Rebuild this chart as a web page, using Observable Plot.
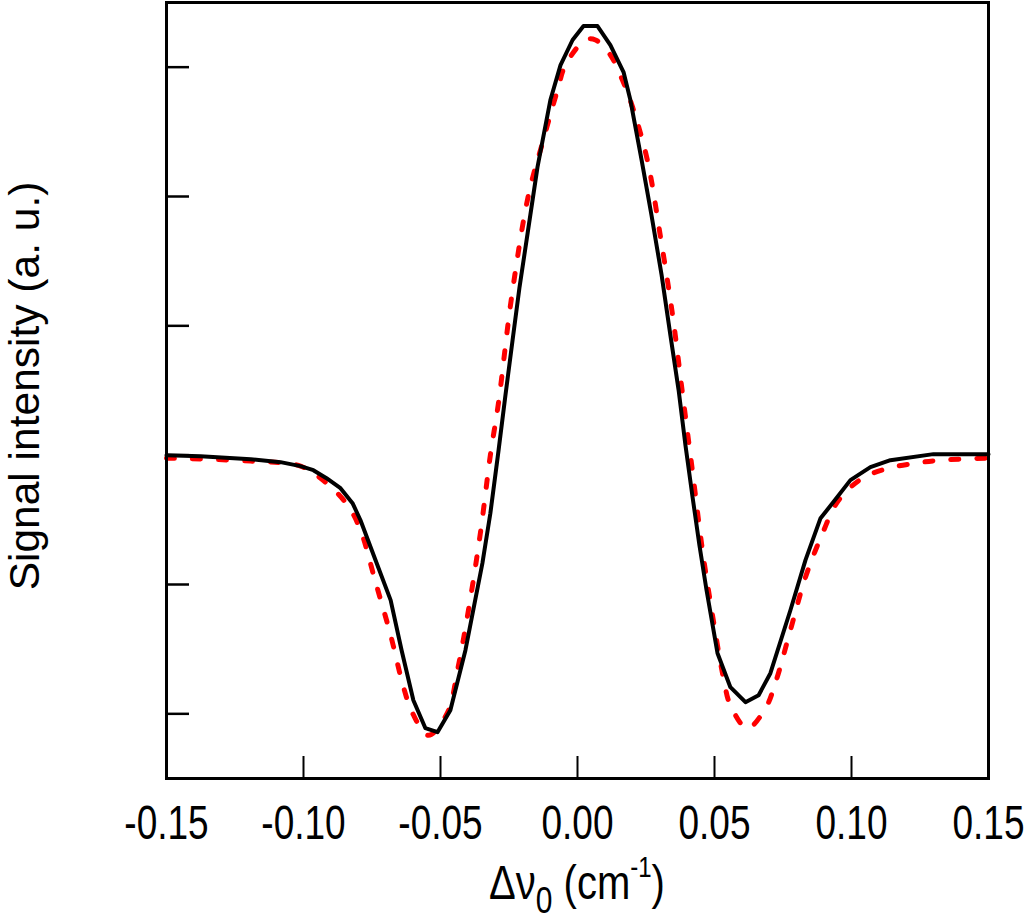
<!DOCTYPE html>
<html><head><meta charset="utf-8">
<script src="https://cdn.jsdelivr.net/npm/d3@7"></script>
<script src="https://cdn.jsdelivr.net/npm/@observablehq/plot@0.6"></script>
<style>
body{margin:0;background:#fff;}
#chart svg{display:block;font-family:"Liberation Sans",Arial,sans-serif;}
</style>
</head><body><div id="chart"></div>
<script>
// x tick values (cm^-1) and y tick positions (arbitrary units, unlabeled)
const xTicks = [-0.15, -0.10, -0.05, 0.00, 0.05, 0.10, 0.15];
const yTicks = [-2, -1, 0, 1, 2, 3];

// measured signal (black solid)
const measX = [-0.1500,-0.1376,-0.1193,-0.1084,-0.1011,-0.0964,-0.0916,-0.0865,-0.0821,-0.0792,-0.0737,-0.0682,-0.0642,-0.0599,-0.0555,-0.0511,-0.0464,-0.0409,-0.0347,-0.0318,-0.0288,-0.0263,-0.0237,-0.0212,-0.0182,-0.0146,-0.0099,-0.0062,-0.0018,0.0022,0.0073,0.0120,0.0168,0.0193,0.0234,0.0270,0.0307,0.0339,0.0369,0.0394,0.0420,0.0445,0.0471,0.0511,0.0558,0.0613,0.0661,0.0704,0.0777,0.0832,0.0887,0.0934,0.0996,0.1069,0.1142,0.1299,0.1500];
const measY = [0.000,-0.008,-0.031,-0.054,-0.085,-0.116,-0.178,-0.255,-0.371,-0.503,-0.812,-1.121,-1.508,-1.895,-2.111,-2.142,-1.972,-1.508,-0.835,-0.449,0.039,0.464,0.889,1.292,1.717,2.227,2.746,3.016,3.210,3.318,3.318,3.171,2.962,2.746,2.281,1.856,1.392,0.928,0.503,0.077,-0.325,-0.696,-1.044,-1.531,-1.794,-1.910,-1.856,-1.686,-1.199,-0.812,-0.487,-0.363,-0.193,-0.093,-0.039,0.008,0.008];

// simulated signal (red dashed)
const simX = [-0.1500,-0.1193,-0.1011,-0.0920,-0.0839,-0.0792,-0.0737,-0.0682,-0.0635,-0.0602,-0.0544,-0.0474,-0.0438,-0.0398,-0.0354,-0.0318,-0.0288,-0.0241,-0.0179,-0.0128,-0.0073,-0.0044,0.0029,0.0066,0.0120,0.0164,0.0201,0.0255,0.0303,0.0347,0.0383,0.0420,0.0456,0.0485,0.0533,0.0558,0.0620,0.0686,0.0723,0.0777,0.0832,0.0887,0.0953,0.1040,0.1135,0.1234,0.1325,0.1500];
const simY = [-0.023,-0.046,-0.085,-0.209,-0.387,-0.580,-0.982,-1.392,-1.794,-1.995,-2.166,-1.988,-1.663,-1.199,-0.596,0.000,0.410,1.214,2.011,2.413,2.823,3.016,3.210,3.210,3.094,2.900,2.691,2.281,1.686,1.083,0.480,-0.131,-0.735,-1.137,-1.725,-1.933,-2.111,-1.957,-1.756,-1.353,-0.944,-0.642,-0.348,-0.178,-0.101,-0.062,-0.039,-0.023];

const meas = measX.map((x, i) => ({x, y: measY[i]}));
const sim = simX.map((x, i) => ({x, y: simY[i]}));

const W = 1024, H = 920;
const mL = 166, mR = 36, mT = 2, mB = 142;
const innerW = W - mL - mR, innerH = H - mT - mB;

const plot = Plot.plot({
  width: W, height: H,
  marginLeft: mL, marginRight: mR, marginTop: mT, marginBottom: mB,
  style: {fontFamily: '"Liberation Sans", Arial, sans-serif', background: "#fff", color: "#000"},
  x: {domain: [-0.15, 0.15]},
  y: {domain: [-2.5, 3.5], axis: null},
  marks: [
    Plot.line(sim, {x: "x", y: "y", stroke: "#ff0000", strokeWidth: 5, strokeDasharray: "8 18", curve: "catmull-rom"}),
    Plot.line(meas, {x: "x", y: "y", stroke: "#000", strokeWidth: 4, strokeLinejoin: "round"}),
    Plot.tickX(xTicks.slice(1, -1), {x: d => d, stroke: "#000", strokeWidth: 2, insetTop: innerH - 22}),
    Plot.tickY(yTicks, {y: d => d, stroke: "#000", strokeWidth: 2.5, insetRight: innerW - 23}),
    Plot.axisX(xTicks, {tickSize: 0, tickPadding: 24, fontSize: 37, tickFormat: d => d.toFixed(2), label: null}),
    Plot.frame({stroke: "#000", strokeWidth: 3})
  ]
});

document.getElementById("chart").appendChild(plot);

const svg = d3.select(plot);

// stretch the tick labels vertically, as in the reference
svg.selectAll('g[aria-label="x-axis tick label"]').each(function () {
  const bb = this.getBBox();
  const cy = bb.y + bb.height / 2;
  const wrap = document.createElementNS("http://www.w3.org/2000/svg", "g");
  this.parentNode.insertBefore(wrap, this);
  wrap.appendChild(this);
  wrap.setAttribute("transform", `translate(0,${cy}) scale(1,1.28) translate(0,${-cy})`);
});

// y-axis title
svg.append("text")
  .attr("transform", `translate(24,${mT + innerH / 2 - 4}) rotate(-90)`)
  .attr("text-anchor", "middle")
  .attr("dominant-baseline", "central")
  .attr("font-size", 42.5)
  .attr("fill", "#000")
  .text("Signal intensity (a. u.)");

// x-axis title with subscript and superscript
const cx = mL + innerW / 2, cy = 881;
const xt = svg.append("text")
  .attr("x", cx)
  .attr("y", 896)
  .attr("text-anchor", "middle")
  .attr("font-size", 40)
  .attr("fill", "#000")
  .attr("transform", `translate(0,${cy}) scale(1,1.2) translate(0,${-cy})`);
xt.append("tspan").text("Δν");
xt.append("tspan").attr("font-size", 30).attr("dy", 12).text("0");
xt.append("tspan").attr("dy", -12).text(" (cm");
xt.append("tspan").attr("font-size", 24).attr("dy", -18).text("-1");
xt.append("tspan").attr("dy", 18).text(")");
</script>
</body></html>
